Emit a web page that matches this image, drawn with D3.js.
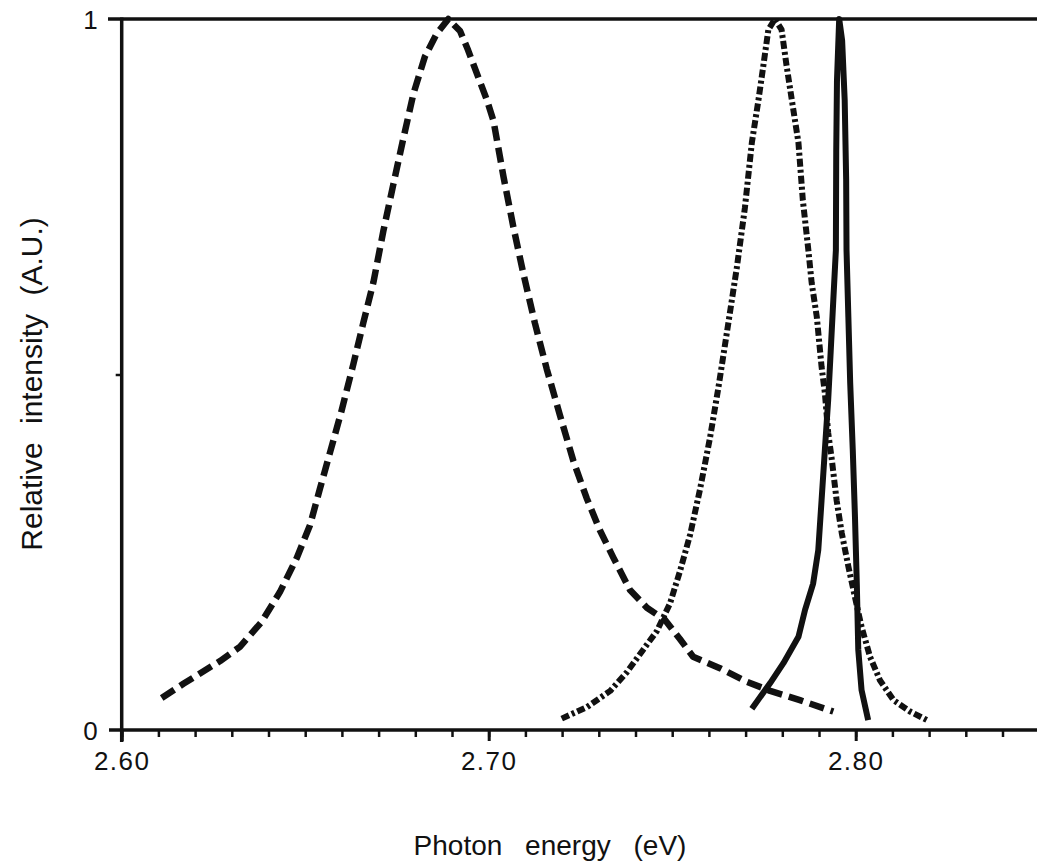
<!DOCTYPE html>
<html>
<head>
<meta charset="utf-8">
<script src="https://cdn.jsdelivr.net/npm/d3@7"></script>
<style>
  body { margin: 0; background: #fff; }
  svg { display: block; font-family: "Liberation Sans", Arial, sans-serif; }
</style>
</head>
<body>
<svg id="chart" width="1037" height="863"></svg>
<script>
// Broad band (dashed)
const dashedEnergy = [2.6109, 2.6168, 2.6268, 2.6322, 2.6381, 2.6431, 2.6477, 2.6513, 2.6540, 2.6568,
  2.6599, 2.6631, 2.6658, 2.6686, 2.6713, 2.6740, 2.6767, 2.6795, 2.6826, 2.6858, 2.6890, 2.6922,
  2.6944, 2.6995, 2.7013, 2.7040, 2.7067, 2.7094, 2.7126, 2.7158, 2.7194, 2.7231, 2.7267, 2.7303,
  2.7340, 2.7385, 2.7431, 2.7480, 2.7521, 2.7557, 2.7630, 2.7703, 2.7767, 2.7848, 2.7939];
const dashedIntensity = [0.045, 0.065, 0.097, 0.117, 0.152, 0.194, 0.242, 0.288, 0.339, 0.391,
  0.449, 0.514, 0.572, 0.630, 0.702, 0.767, 0.831, 0.895, 0.947, 0.979, 1.000, 0.983,
  0.956, 0.886, 0.857, 0.779, 0.708, 0.643, 0.572, 0.508, 0.443, 0.378, 0.326, 0.281,
  0.242, 0.197, 0.172, 0.155, 0.128, 0.103, 0.087, 0.068, 0.055, 0.042, 0.026];

// Middle band (dash-dot)
const dashDotEnergy = [2.7199, 2.7267, 2.7331, 2.7376, 2.7421, 2.7458, 2.7494, 2.7521, 2.7549, 2.7576,
  2.7603, 2.7626, 2.7649, 2.7676, 2.7698, 2.7717, 2.7735, 2.7748, 2.7762, 2.7780, 2.7798, 2.7812,
  2.7826, 2.7844, 2.7856, 2.7871, 2.7880, 2.7894, 2.7907, 2.7916, 2.7925, 2.7935, 2.7948, 2.7962,
  2.7980, 2.7998, 2.8016, 2.8039, 2.8066, 2.8103, 2.8148, 2.8194];
const dashDotIntensity = [0.016, 0.032, 0.055, 0.081, 0.113, 0.139, 0.178, 0.223, 0.275, 0.339,
  0.411, 0.482, 0.559, 0.650, 0.734, 0.826, 0.886, 0.933, 0.985, 1.000, 0.985, 0.933,
  0.886, 0.826, 0.745, 0.675, 0.629, 0.581, 0.511, 0.474, 0.418, 0.380, 0.323, 0.277,
  0.230, 0.187, 0.145, 0.103, 0.070, 0.042, 0.026, 0.014];

// Narrow line (solid)
const solidEnergy = [2.7717, 2.7767, 2.7803, 2.7844, 2.7862, 2.7884, 2.7898, 2.7907, 2.7916, 2.7925,
  2.7932, 2.7939, 2.7946, 2.7947, 2.7949, 2.7955, 2.7963, 2.7970, 2.7974, 2.7975, 2.7980, 2.7985,
  2.7992, 2.7998, 2.8003, 2.8007, 2.8016, 2.8034];
const solidIntensity = [0.030, 0.066, 0.094, 0.131, 0.169, 0.206, 0.253, 0.323, 0.394, 0.464,
  0.534, 0.605, 0.675, 0.816, 0.914, 1.000, 0.970, 0.886, 0.774, 0.675, 0.581, 0.488,
  0.394, 0.300, 0.206, 0.113, 0.056, 0.014];

const xLabelTicks = [2.60, 2.70, 2.80];
const xMinorTicks = d3.range(0, 25).map(i => +(2.60 + i * 0.01).toFixed(2));
const yLabelTicks = [0, 1];
const yMinorTicks = [0.5];

const svg = d3.select("#chart");

const x = d3.scaleLinear().domain([2.60, 2.85]).range([121.7, 1039.2]);
const y = d3.scaleLinear().domain([0, 1]).range([730, 19]);

// frame: top line and the two axis lines
svg.append("line")
  .attr("x1", 108).attr("x2", 1037)
  .attr("y1", y(1)).attr("y2", y(1))
  .attr("stroke", "#111").attr("stroke-width", 3.5);
svg.append("line")
  .attr("x1", 109).attr("x2", 1037)
  .attr("y1", y(0)).attr("y2", y(0))
  .attr("stroke", "#111").attr("stroke-width", 3.5);
svg.append("line")
  .attr("x1", x(2.60)).attr("x2", x(2.60))
  .attr("y1", y(1) - 1.5).attr("y2", 742)
  .attr("stroke", "#111").attr("stroke-width", 3.5);

// x axis ticks
const xMinor = svg.append("g")
  .attr("transform", "translate(0," + y(0) + ")")
  .call(d3.axisBottom(x).tickValues(xMinorTicks).tickSize(7).tickFormat(""));
xMinor.select(".domain").remove();
xMinor.selectAll("line").attr("stroke", "#111").attr("stroke-width", 2.5);

const xMajor = svg.append("g")
  .attr("transform", "translate(0," + y(0) + ")")
  .call(d3.axisBottom(x).tickValues(xLabelTicks).tickSize(11).tickFormat(d3.format(".2f")));
xMajor.select(".domain").remove();
xMajor.selectAll("line").attr("stroke", "#111").attr("stroke-width", 3);
xMajor.selectAll("text")
  .attr("y", 40).attr("dy", 0)
  .attr("fill", "#111")
  .style("font-size", "26px")
  .style("letter-spacing", "1.5px")
  .style("font-family", "'Liberation Sans', Arial, sans-serif");

// y axis ticks
const yAxis = svg.append("g")
  .attr("transform", "translate(" + x(2.60) + ",0)")
  .call(d3.axisLeft(y).tickValues(yLabelTicks).tickSize(0).tickFormat(d3.format("d")));
yAxis.select(".domain").remove();
yAxis.selectAll("text")
  .attr("x", -24).attr("dy", "0.36em")
  .attr("fill", "#111")
  .style("font-size", "26px")
  .style("font-family", "'Liberation Sans', Arial, sans-serif");

const yMinor = svg.append("g")
  .attr("transform", "translate(" + x(2.60) + ",0)")
  .call(d3.axisLeft(y).tickValues(yMinorTicks).tickSize(6).tickFormat(""));
yMinor.select(".domain").remove();
yMinor.selectAll("line").attr("stroke", "#111").attr("stroke-width", 2.5);

// axis titles
svg.append("text")
  .attr("x", 550).attr("y", 855)
  .attr("text-anchor", "middle")
  .attr("fill", "#111")
  .style("font-size", "28px")
  .style("word-spacing", "15px")
  .text("Photon energy (eV)");

svg.append("text")
  .attr("transform", "translate(42,384) rotate(-90)")
  .attr("text-anchor", "middle")
  .attr("fill", "#111")
  .style("font-size", "30px")
  .style("word-spacing", "10px")
  .text("Relative intensity (A.U.)");

// spectra
const line = d3.line()
  .x(d => x(d[0]))
  .y(d => y(d[1]));

const series = [
  { e: dashedEnergy, v: dashedIntensity, dash: "15,7", width: 6.5 },
  { e: dashDotEnergy, v: dashDotIntensity, dash: "8,3,3,3", width: 6 },
  { e: solidEnergy, v: solidIntensity, dash: null, width: 6 }
];

series.forEach(s => {
  svg.append("path")
    .datum(d3.zip(s.e, s.v))
    .attr("d", line)
    .attr("fill", "none")
    .attr("stroke", "#111")
    .attr("stroke-width", s.width)
    .attr("stroke-linejoin", "round")
    .attr("stroke-dasharray", s.dash);
});
</script>
</body>
</html>
